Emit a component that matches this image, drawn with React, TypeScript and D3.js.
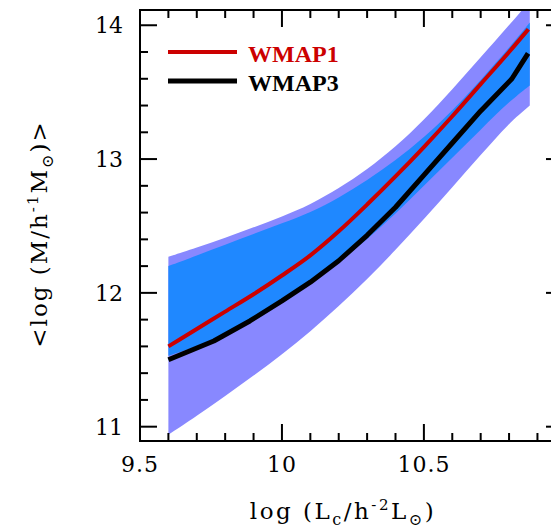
import React from "react";
import * as d3 from "d3";

const bandX = [9.6, 9.7, 9.8, 9.9, 10.0, 10.1, 10.2, 10.3, 10.4, 10.5, 10.6, 10.7, 10.8, 10.873];
const outerUpper = [12.27, 12.34, 12.41, 12.49, 12.57, 12.66, 12.78, 12.92, 13.09, 13.29, 13.52, 13.76, 14.0, 14.18];
const outerLower = [10.94, 11.08, 11.23, 11.38, 11.54, 11.71, 11.9, 12.1, 12.32, 12.55, 12.79, 13.03, 13.27, 13.4];
const innerUpper = [12.2, 12.28, 12.36, 12.44, 12.52, 12.6, 12.71, 12.84, 12.99, 13.16, 13.36, 13.59, 13.83, 14.02];
const innerLower = [11.53, 11.6, 11.69, 11.8, 11.93, 12.07, 12.23, 12.4, 12.59, 12.8, 13.01, 13.22, 13.43, 13.55];

const wmap1X = [9.6, 9.7, 9.8, 9.9, 10.0, 10.1, 10.2, 10.3, 10.4, 10.5, 10.6, 10.7, 10.8, 10.868];
const wmap1Y = [11.6, 11.73, 11.86, 11.99, 12.13, 12.28, 12.46, 12.66, 12.87, 13.09, 13.32, 13.56, 13.8, 13.97];

const wmap3X = [9.6, 9.76, 9.887, 10.0, 10.1, 10.2, 10.3, 10.4, 10.5, 10.6, 10.7, 10.81, 10.867];
const wmap3Y = [11.5, 11.64, 11.79, 11.94, 12.08, 12.24, 12.43, 12.64, 12.88, 13.12, 13.36, 13.6, 13.79];

const xMajorTicks = [9.5, 10, 10.5];
const xTickLabels = ["9.5", "10", "10.5"];
const yMajorTicks = [11, 12, 13, 14];
const yTickLabels = ["11", "12", "13", "14"];
const legendLabels = ["WMAP1", "WMAP3"];

const W = 551, H = 529;
const L = 140, R = 563, T = 10, B = 441;

export default function App() {
  const x = d3.scaleLinear().domain([9.5, 10.99]).range([L, R]);
  const y = d3.scaleLinear().domain([10.893, 14.114]).range([B, T]);

  const outer = bandX.map((v, i) => ({ x: v, lo: outerLower[i], hi: outerUpper[i] }));
  const inner = bandX.map((v, i) => ({ x: v, lo: innerLower[i], hi: innerUpper[i] }));
  const area = d3
    .area<{ x: number; lo: number; hi: number }>()
    .x((d) => x(d.x))
    .y0((d) => y(d.lo))
    .y1((d) => y(d.hi))
    .curve(d3.curveBasis);
  const smooth = d3
    .line<[number, number]>()
    .x((d) => x(d[0]))
    .y((d) => y(d[1]))
    .curve(d3.curveMonotoneX);
  const straight = d3
    .line<[number, number]>()
    .x((d) => x(d[0]))
    .y((d) => y(d[1]));
  const w1 = wmap1X.map((v, i) => [v, wmap1Y[i]] as [number, number]);
  const w3 = wmap3X.map((v, i) => [v, wmap3Y[i]] as [number, number]);

  const xMinor = d3.range(95, 110).map((v) => v / 10);
  const yMinor = d3.range(55, 71).map((v) => v / 5);

  const serif = "'DejaVu Serif', serif";
  const times = "'Liberation Serif', 'Times New Roman', serif";
  const tickStroke = { stroke: "#000", strokeWidth: 2 };

  return (
    <svg width={W} height={H} style={{ position: "absolute", left: 0, top: 0, background: "#fff" }}>
      <defs>
        <clipPath id="plotclip">
          <rect x={L} y={T} width={R - L} height={B - T} />
        </clipPath>
      </defs>
      <g clipPath="url(#plotclip)">
        <path d={area(outer) || ""} fill="#8888ff" />
        <path d={area(inner) || ""} fill="#1f88ff" />
        <path d={smooth(w1) || ""} fill="none" stroke="#cc0000" strokeWidth={4} />
        <path d={straight(w3) || ""} fill="none" stroke="#000" strokeWidth={5} strokeLinejoin="round" />
      </g>

      {xMinor.map((v, i) => {
        const major = xMajorTicks.some((m) => Math.abs(m - v) < 1e-6);
        const len = major ? 17 : 8;
        const px = x(v);
        return (
          <g key={"xt" + i}>
            <line x1={px} x2={px} y1={B} y2={B - len} {...tickStroke} />
            <line x1={px} x2={px} y1={T} y2={T + len} {...tickStroke} />
          </g>
        );
      })}
      {yMinor.map((v, i) => {
        if (v < 10.893 || v > 14.114) return null;
        const major = yMajorTicks.some((m) => Math.abs(m - v) < 1e-6);
        const len = major ? 17 : 8;
        const py = y(v);
        return (
          <g key={"yt" + i}>
            <line x1={L} x2={L + len} y1={py} y2={py} {...tickStroke} />
            <line x1={R} x2={R - len} y1={py} y2={py} {...tickStroke} />
          </g>
        );
      })}
      <rect x={L} y={T} width={R - L} height={B - T} fill="none" stroke="#000" strokeWidth={2} />

      {xMajorTicks.map((v, i) => (
        <text key={"xl" + i} x={x(v)} y={472} textAnchor="middle" fontFamily={serif} fontSize={22} letterSpacing={1}>
          {xTickLabels[i]}
        </text>
      ))}
      {yMajorTicks.map((v, i) => (
        <text key={"yl" + i} x={123} y={y(v)} dy="0.36em" textAnchor="end" fontFamily={serif} fontSize={22} letterSpacing={0}>
          {yTickLabels[i]}
        </text>
      ))}

      <text x={343} y={519} textAnchor="middle" fontFamily={serif} fontSize={23} letterSpacing={2.5}>
        {"log\u00a0(L"}
        <tspan fontSize={16} dy={6}>c</tspan>
        <tspan dy={-6}>/h</tspan>
        <tspan fontSize={15} dy={-9}>-2</tspan>
        <tspan dy={9}>L</tspan>
        <tspan fontSize={16} dy={6}>⊙</tspan>
        <tspan dy={-6}>)</tspan>
      </text>
      <text
        transform={`translate(47,234) rotate(-90)`}
        textAnchor="middle"
        fontFamily={serif}
        fontSize={23}
        letterSpacing={2}
      >
        {"<log\u00a0(M/h"}
        <tspan fontSize={15} dy={-9}>-1</tspan>
        <tspan dy={9}>M</tspan>
        <tspan fontSize={16} dy={6}>⊙</tspan>
        <tspan dy={-6}>{")>"}</tspan>
      </text>

      <line x1={168} x2={237} y1={52} y2={52} stroke="#cc0000" strokeWidth={4} />
      <text x={248} y={61.5} fontFamily={times} fontWeight="bold" fontSize={24} fill="#cc0000">
        {legendLabels[0]}
      </text>
      <line x1={168} x2={237} y1={81} y2={81} stroke="#000" strokeWidth={5} />
      <text x={248} y={90.5} fontFamily={times} fontWeight="bold" fontSize={24} fill="#000">
        {legendLabels[1]}
      </text>
    </svg>
  );
}
